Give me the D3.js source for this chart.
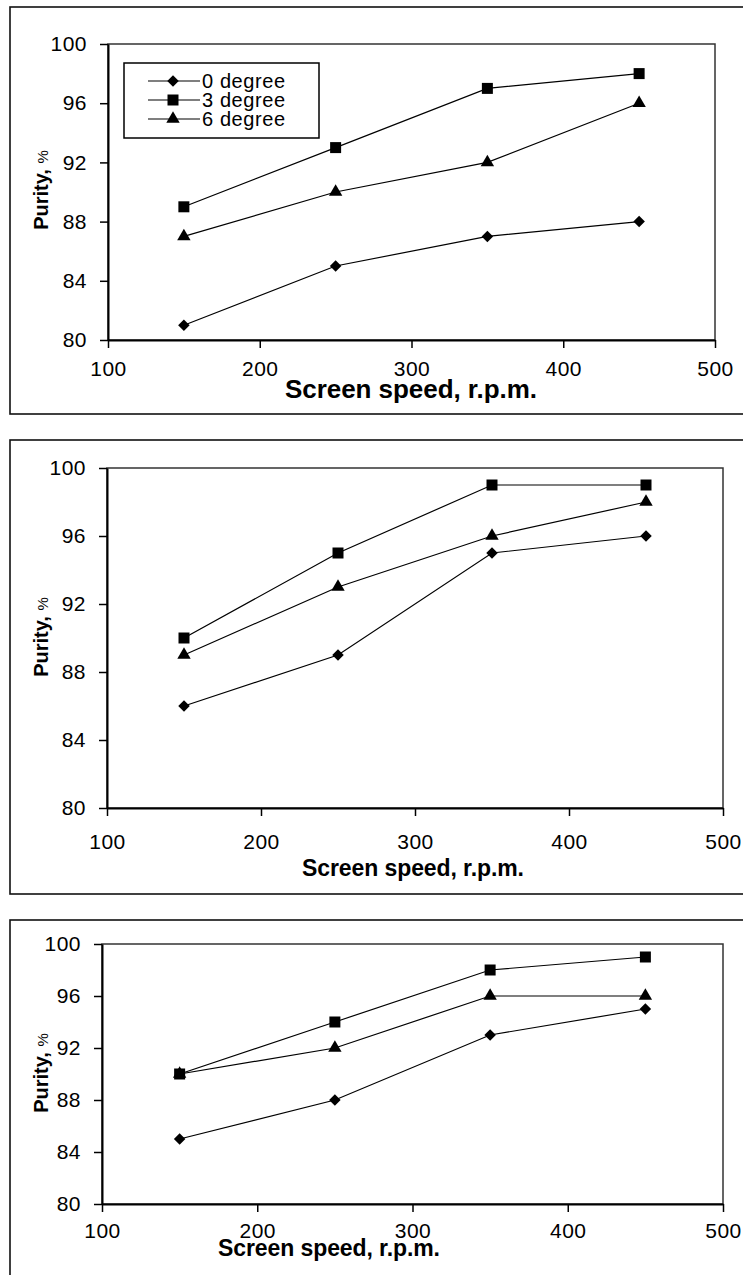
<!DOCTYPE html>
<html lang="en">
<head>
  <meta charset="UTF-8">
  <title>Purity vs screen speed</title>
  <style>
    body { margin: 0; background: #fff; }
    svg { display: block; }
    text { font-family: "Liberation Sans", Arial, sans-serif; fill: #000; }
    .tick text { font-size: 21px; letter-spacing: 0.5px; }
    .series-line { fill: none; stroke: #000; stroke-width: 1.2px; }
    .title { font-weight: bold; }
  </style>
</head>
<body>
  <svg width="743" height="1275"></svg>

  <script src="https://d3js.org/d3.v7.min.js"></script>
  <script>
    // values
    const speeds = [150, 250, 350, 450];
    const degreeLabels = ["0 degree", "3 degree", "6 degree"];
    const xTickValues = [100, 200, 300, 400, 500];
    const yTickValues = [80, 84, 88, 92, 96, 100];

    const chart1Deg0 = [81, 85, 87, 88];
    const chart1Deg3 = [89, 93, 97, 98];
    const chart1Deg6 = [87, 90, 92, 96];

    const chart2Deg0 = [86, 89, 95, 96];
    const chart2Deg3 = [90, 95, 99, 99];
    const chart2Deg6 = [89, 93, 96, 98];

    const chart3Deg0 = [85, 88, 93, 95];
    const chart3Deg3 = [90, 94, 98, 99];
    const chart3Deg6 = [90, 92, 96, 96];

    const xTitle = "Screen speed, r.p.m.";

    // layout of the three stacked panels
    const panels = [
      { frameTop: 7, frameBottom: 414, left: 108, right: 715, top: 44, bottom: 340,
        xPad: 13, titleX: 411, titleY: 398, titleSize: 26, titleLen: 252,
        yTitleY: 190, yTitleLen: 85, legend: true,
        series: [chart1Deg0, chart1Deg3, chart1Deg6] },
      { frameTop: 440, frameBottom: 894, left: 107, right: 723, top: 468, bottom: 808,
        xPad: 18, titleX: 413, titleY: 876, titleSize: 23, titleLen: 222,
        yTitleY: 637, yTitleLen: 87, legend: false,
        series: [chart2Deg0, chart2Deg3, chart2Deg6] },
      { frameTop: 920, frameBottom: 1300, left: 102, right: 723, top: 944, bottom: 1204,
        xPad: 11, titleX: 329, titleY: 1256, titleSize: 23, titleLen: 222,
        yTitleY: 1073, yTitleLen: 79, legend: false,
        series: [chart3Deg0, chart3Deg3, chart3Deg6] }
    ];

    const markers = [
      d3.symbol().type(d3.symbolSquare).size(66),   // diamond (rotated square)
      d3.symbol().type(d3.symbolSquare).size(121),
      d3.symbol().type(d3.symbolTriangle).size(78)
    ];
    const markerRotate = [45, 0, 0];

    const svg = d3.select("svg");

    panels.forEach(p => {
      const g = svg.append("g");

      // outer frame (runs off the right edge, like the original)
      g.append("rect")
        .attr("x", 10)
        .attr("y", p.frameTop)
        .attr("width", 760)
        .attr("height", p.frameBottom - p.frameTop)
        .attr("fill", "none")
        .attr("stroke", "#111")
        .attr("stroke-width", 1.6);

      const x = d3.scaleLinear().domain([100, 500]).range([p.left, p.right]);
      const y = d3.scaleLinear().domain([80, 100]).range([p.bottom, p.top]);

      // plot box
      g.append("rect")
        .attr("x", p.left)
        .attr("y", p.top)
        .attr("width", p.right - p.left)
        .attr("height", p.bottom - p.top)
        .attr("fill", "none")
        .attr("stroke", "#333")
        .attr("stroke-width", 1.5);

      const yAxis = g.append("g")
        .attr("transform", `translate(${p.left},0)`)
        .call(d3.axisLeft(y).tickValues(yTickValues).tickSize(8).tickSizeOuter(0).tickPadding(13));

      const xAxis = g.append("g")
        .attr("transform", `translate(0,${p.bottom})`)
        .call(d3.axisBottom(x).tickValues(xTickValues).tickSize(8).tickSizeOuter(0).tickPadding(p.xPad));

      [yAxis, xAxis].forEach(a => {
        a.select(".domain").attr("stroke", "#000").attr("stroke-width", 2);
        a.selectAll(".tick line").attr("stroke", "#000").attr("stroke-width", 1.5);
        a.attr("font-family", null).attr("font-size", null);
      });

      // series
      const line = d3.line()
        .x((d, i) => x(speeds[i]))
        .y(d => y(d));

      p.series.forEach((vals, s) => {
        g.append("path")
          .datum(vals)
          .attr("class", "series-line")
          .attr("d", line);

        g.selectAll(null)
          .data(vals)
          .enter().append("path")
          .attr("d", markers[s])
          .attr("fill", "#000")
          .attr("transform", (d, i) => `translate(${x(speeds[i])},${y(d)}) rotate(${markerRotate[s]})`);
      });

      // axis titles
      g.append("text")
        .attr("class", "title")
        .attr("x", p.titleX)
        .attr("y", p.titleY)
        .attr("text-anchor", "middle")
        .attr("font-size", p.titleSize)
        .attr("textLength", p.titleLen)
        .attr("lengthAdjust", "spacing")
        .text(xTitle);

      const yt = g.append("text")
        .attr("class", "title")
        .attr("text-anchor", "middle")
        .attr("font-size", 20)
        .attr("transform", `translate(48,${p.yTitleY}) rotate(-90)`);
      yt.append("tspan").text("Purity, ");
      yt.append("tspan")
        .attr("font-weight", "normal")
        .attr("font-size", 15)
        .text("%");

      if (p.legend) {
        const lg = g.append("g");
        lg.append("rect")
          .attr("x", 124)
          .attr("y", 63)
          .attr("width", 195)
          .attr("height", 75)
          .attr("fill", "#fff")
          .attr("stroke", "#000")
          .attr("stroke-width", 1.5);

        degreeLabels.forEach((label, s) => {
          const ry = 81 + s * 19;
          lg.append("line")
            .attr("x1", 148).attr("x2", 200)
            .attr("y1", ry).attr("y2", ry)
            .attr("stroke", "#000")
            .attr("stroke-width", 1.2);
          lg.append("path")
            .attr("d", markers[s])
            .attr("fill", "#000")
            .attr("transform", `translate(173,${ry}) rotate(${markerRotate[s]})`);
          lg.append("text")
            .attr("x", 202)
            .attr("y", ry)
            .attr("dy", "0.35em")
            .attr("font-size", 20)
            .attr("letter-spacing", 0.6)
            .text(label);
        });
      }
    });
  </script>
</body>
</html>
